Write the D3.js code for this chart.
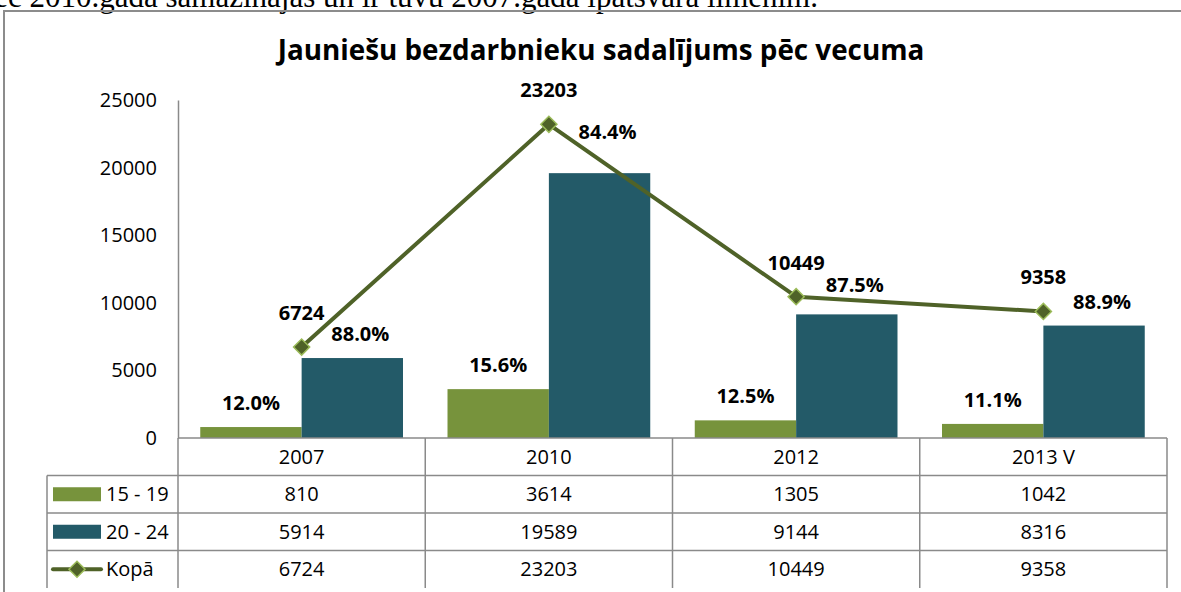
<!DOCTYPE html>
<html>
<head>
<meta charset="utf-8">
<script src="https://cdn.jsdelivr.net/npm/d3@7"></script>
<style>
  body { margin: 0; background: #fff; }
  svg { display: block; }
</style>
</head>
<body>
<svg class="chart" width="1181" height="592"></svg>
<script>
const years = [`2007`, `2010`, `2012`, `2013 V`];
const age1519 = [810, 3614, 1305, 1042];
const age2024 = [5914, 19589, 9144, 8316];
const kopa = [6724, 23203, 10449, 9358];
const seriesNames = [`15 - 19`, `20 - 24`, `Kopā`];
const yTicks = [0, 5000, 10000, 15000, 20000, 25000];

const green = `#77933C`;
const teal = `#235A68`;
const lineCol = `#4F6228`;
const markerEdge = `#9BBB59`;
const gridCol = `#8a8a8a`;
const font = `'Open Sans', 'Liberation Sans', sans-serif`;

const svg = d3.select(`.chart`);

// teksta atlikums virs diagrammas (nogriezts augšā)
const intro = svg.append(`text`)
  .attr(`x`, 818)
  .attr(`y`, 7)
  .attr(`text-anchor`, `end`)
  .attr(`font-family`, `'Liberation Serif', 'DejaVu Serif', serif`)
  .attr(`font-size`, `31px`)
  .text(`pēc 2010.gada samazinājās un ir tuvu 2007.gada īpatsvara līmenim.`);

// rāmis
svg.append(`rect`)
  .attr(`x`, 4)
  .attr(`y`, 11)
  .attr(`width`, 1300)
  .attr(`height`, 800)
  .attr(`fill`, `none`)
  .attr(`stroke`, `#8c8c8c`)
  .attr(`stroke-width`, 2);

const title = svg.append(`text`)
  .attr(`x`, 601)
  .attr(`y`, 60)
  .attr(`text-anchor`, `middle`)
  .attr(`font-family`, font)
  .attr(`font-weight`, `bold`)
  .attr(`font-size`, `28px`)
  .text(`Jauniešu bezdarbnieku sadalījums pēc vecuma`);
const tw = title.node().getComputedTextLength();
if (tw > 647) title.attr(`font-size`, `${28 * 647 / tw}px`);

const plotLeft = 178;
const plotRight = 1167;
const plotTop = 100;
const plotBottom = 438;
const rowH = 37.5;
const legendLeft = 47;

const x = d3.scaleBand()
  .domain(years)
  .range([plotLeft, plotRight]);

const bw = x.bandwidth();
const x1 = d3.scaleBand()
  .domain([0, 1])
  .range([bw * 0.09, bw * 0.91]);

const y = d3.scaleLinear()
  .domain([0, 25000])
  .range([plotBottom, plotTop]);

// y ass
const yAxis = svg.append(`g`)
  .attr(`transform`, `translate(${plotLeft},0)`)
  .call(d3.axisLeft(y).tickValues(yTicks).tickFormat(d3.format(`d`)).tickSize(0).tickPadding(21));
yAxis.select(`.domain`).attr(`stroke`, gridCol).attr(`stroke-width`, 1.5);
yAxis.selectAll(`text`)
  .attr(`font-family`, font)
  .attr(`font-size`, `20px`)
  .attr(`fill`, `#000`);

// stabiņi
const groups = svg.selectAll(`.year`)
  .data(years)
  .enter().append(`g`)
  .attr(`class`, `year`)
  .attr(`transform`, d => `translate(${x(d)},0)`);

groups.append(`rect`)
  .attr(`x`, x1(0))
  .attr(`y`, (d, i) => y(age1519[i]))
  .attr(`width`, x1.bandwidth())
  .attr(`height`, (d, i) => y(0) - y(age1519[i]))
  .attr(`fill`, green);

groups.append(`rect`)
  .attr(`x`, x1(1))
  .attr(`y`, (d, i) => y(age2024[i]))
  .attr(`width`, x1.bandwidth())
  .attr(`height`, (d, i) => y(0) - y(age2024[i]))
  .attr(`fill`, teal);

// kopā līnija
const pts = years.map((d, i) => [x(d) + bw / 2, y(kopa[i])]);

svg.append(`path`)
  .attr(`d`, d3.line()(pts))
  .attr(`fill`, `none`)
  .attr(`stroke`, lineCol)
  .attr(`stroke-width`, 4)
  .attr(`stroke-linejoin`, `round`);

const diamond = d3.symbol().type(d3.symbolSquare).size(130);

svg.selectAll(`.marker`)
  .data(pts)
  .enter().append(`path`)
  .attr(`class`, `marker`)
  .attr(`d`, diamond)
  .attr(`transform`, d => `translate(${d[0]},${d[1]}) rotate(45)`)
  .attr(`fill`, lineCol)
  .attr(`stroke`, markerEdge)
  .attr(`stroke-width`, 1.5);

const lineYAt = px => {
  for (let i = 0;i < pts.length - 1;i ++) {
    const [ax, ay] = pts[i];
    const [bx, by] = pts[i + 1];
    if (px >= ax && px <= bx) return ay + (by - ay) * (px - ax) / (bx - ax);
  }
  return null;
};

const labelText = (sel, px, py, txt) => sel.append(`text`)
  .attr(`x`, px)
  .attr(`y`, py)
  .attr(`text-anchor`, `middle`)
  .attr(`font-family`, font)
  .attr(`font-weight`, `bold`)
  .attr(`font-size`, `20px`)
  .attr(`fill`, `#000`)
  .text(txt);

const pct = (v, i) => `${(v / kopa[i] * 100).toFixed(1)}%`;

years.forEach((yr, i) => {
  // 15-19 procenti
  labelText(svg, x(yr) + x1(0) + x1.bandwidth() / 2, y(age1519[i]) - 17, pct(age1519[i], i));

  // 20-24 procenti, pacelti, ja krustojas ar līniju
  const base = y(age2024[i]) - 17;
  const lbl = labelText(svg, x(yr) + x1(1) + x1.bandwidth() / 2 + 8, base, pct(age2024[i], i));
  const w = lbl.node().getComputedTextLength();
  const cx = +lbl.attr(`x`);
  const ys = [cx - w / 2, cx, cx + w / 2].map(lineYAt).filter(v => v !== null);
  if (ys.length) {
    const lo = d3.min(ys);
    const hi = d3.max(ys);
    const top = base - 14;
    if (base > lo - 3 && top < hi + 3) lbl.attr(`y`, lo - 6);
  }

  // kopā
  labelText(svg, pts[i][0], pts[i][1] - 27, kopa[i]);
});

// datu tabula
const table = svg.append(`g`).attr(`class`, `table`);
const rows = [age1519, age2024, kopa];

const hLine = (x0, x2, yy) => table.append(`line`)
  .attr(`x1`, x0).attr(`x2`, x2).attr(`y1`, yy).attr(`y2`, yy)
  .attr(`stroke`, gridCol).attr(`stroke-width`, 1.5);
const vLine = (xx, y0, y2) => table.append(`line`)
  .attr(`x1`, xx).attr(`x2`, xx).attr(`y1`, y0).attr(`y2`, y2)
  .attr(`stroke`, gridCol).attr(`stroke-width`, 1.5);

hLine(plotLeft, plotRight, plotBottom);
for (let r = 1;r <= 3;r ++) hLine(legendLeft, plotRight, plotBottom + r * rowH);
vLine(legendLeft, plotBottom + rowH, plotBottom + 4 * rowH);
years.forEach(yr => vLine(x(yr), plotBottom, plotBottom + 4 * rowH));
vLine(plotRight, plotBottom, plotBottom + 4 * rowH);

const cellText = (px, py, txt, anchor) => table.append(`text`)
  .attr(`x`, px)
  .attr(`y`, py)
  .attr(`dy`, `0.36em`)
  .attr(`text-anchor`, anchor)
  .attr(`font-family`, font)
  .attr(`font-size`, `20px`)
  .attr(`fill`, `#000`)
  .text(txt);

years.forEach((yr, i) => {
  cellText(x(yr) + bw / 2, plotBottom + rowH / 2, yr, `middle`);
  rows.forEach((row, r) => {
    cellText(x(yr) + bw / 2, plotBottom + (r + 1.5) * rowH, row[i], `middle`);
  });
});

// leģenda tabulā
seriesNames.forEach((name, r) => {
  const cy = plotBottom + (r + 1.5) * rowH;
  if (r < 2) {
    table.append(`rect`)
      .attr(`x`, 53)
      .attr(`y`, cy - 7)
      .attr(`width`, 48)
      .attr(`height`, 14)
      .attr(`fill`, r === 0 ? green : teal);
  } else {
    table.append(`line`)
      .attr(`x1`, 53).attr(`x2`, 101).attr(`y1`, cy).attr(`y2`, cy)
      .attr(`stroke`, lineCol).attr(`stroke-width`, 4).attr(`stroke-linecap`, `round`);
    table.append(`path`)
      .attr(`d`, diamond)
      .attr(`transform`, `translate(77,${cy}) rotate(45)`)
      .attr(`fill`, lineCol)
      .attr(`stroke`, markerEdge)
      .attr(`stroke-width`, 1.5);
  }
  cellText(106, cy, name, `start`);
});
</script>
</body>
</html>
